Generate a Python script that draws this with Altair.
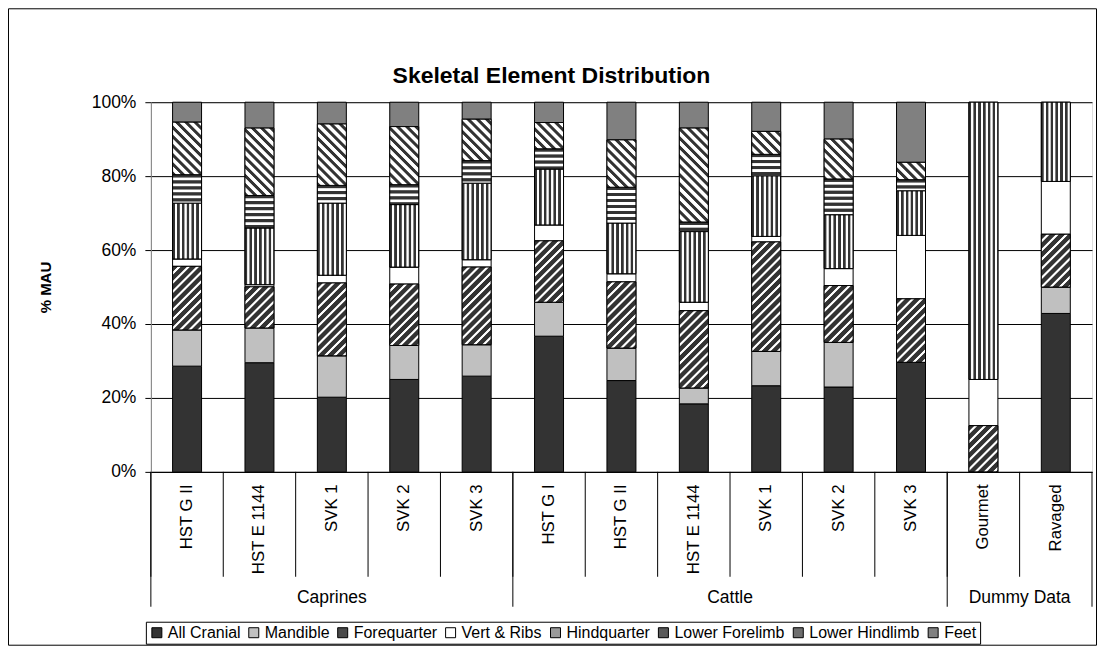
import math
import altair as alt
import pandas as pd

# ---------------- data (% MAU) ----------------
groups = ["Caprines"] * 5 + ["Cattle"] * 6 + ["Dummy Data"] * 2
sites = ["HST G II", "HST E 1144", "SVK 1", "SVK 2", "SVK 3",
         "HST G I", "HST G II", "HST E 1144", "SVK 1", "SVK 2", "SVK 3",
         "Gourmet", "Ravaged"]
elements = ["All Cranial", "Mandible", "Forequarter", "Vert & Ribs",
            "Hindquarter", "Lower Forelimb", "Lower Hindlimb", "Feet"]

all_cranial = [28.6, 29.5, 20.2, 25.0, 25.9, 36.7, 24.7, 18.4, 23.3, 23.0, 29.7, 0.0, 42.86]
mandible = [9.8, 9.4, 11.2, 9.2, 8.5, 9.2, 8.8, 4.3, 9.3, 12.1, 0.0, 0.0, 7.14]
forequarter = [17.2, 11.1, 19.7, 16.6, 21.0, 16.6, 17.9, 20.9, 29.6, 15.4, 17.2, 12.5, 14.29]
vert_ribs = [2.0, 0.6, 2.1, 4.6, 2.0, 4.3, 2.2, 2.3, 1.5, 4.6, 17.2, 12.5, 14.29]
hindquarter = [15.1, 15.3, 19.5, 16.9, 20.7, 15.1, 13.7, 19.1, 16.4, 14.6, 12.1, 75.0, 21.43]
lower_forelimb = [7.7, 8.8, 4.8, 5.4, 6.1, 5.5, 9.7, 2.6, 5.8, 9.7, 3.0, 0.0, 0.0]
lower_hindlimb = [14.2, 18.2, 16.6, 15.7, 11.2, 7.1, 12.8, 25.4, 6.2, 10.8, 4.7, 0.0, 0.0]
feet = [5.4, 7.0, 5.9, 6.6, 4.6, 5.5, 10.2, 7.0, 7.9, 10.0, 16.3, 0.0, 0.0]

series = [all_cranial, mandible, forequarter, vert_ribs, hindquarter,
          lower_forelimb, lower_hindlimb, feet]

keys = [f"{g}|{s}" for g, s in zip(groups, sites)]
rows = []
for i, key in enumerate(keys):
    for j, (el, arr) in enumerate(zip(elements, series)):
        rows.append({"key": key, "group": groups[i], "element": el, "ord": j, "value": arr[i]})
df = pd.DataFrame(rows)

key_df = pd.DataFrame({"key": keys, "group": groups})
group_start = key_df[key_df["group"] != key_df["group"].shift()].copy()
grp_names = ["Caprines", "Cattle", "Dummy Data"]
# anchor of each group label: the key at the middle of the group
lab_mid = pd.DataFrame({"key": [keys[2]], "label": [grp_names[0]]})          # odd count -> band centre
lab_edge = pd.DataFrame({"key": [keys[8], keys[12]], "label": grp_names[1:]})  # even count -> band edge

# ---------------- styles ----------------
W, H = 942, 370
BAR_W = 29
DARK = "#333333"
LIGHT = "#ffffff"
FONT = "Liberation Sans"
colors = ["#333333", "#c0c0c0", "#4a4a4a", "#ffffff", "#9a9a9a", "#5a5a5a", "#6e6e6e", "#808080"]


def stops(n, dark_frac, edge):
    out = []
    for i in range(n):
        b = i / n
        for off, col in [(0.0, DARK), (dark_frac, DARK), (dark_frac + edge, LIGHT), (1 - edge, LIGHT)]:
            out.append("{offset:%.5f,color:'%s'}" % (b + off / n, col))
    out.append("{offset:1,color:'%s'}" % DARK)
    return "[" + ",".join(out) + "]"


HPX = "((datum.y1-datum.y0)*%d)" % H


def diag_expr(rising, period, n, dark_frac, edge):
    k = period * math.sqrt(2) * n
    den = "(%d+%s*%s)" % (BAR_W * BAR_W, HPX, HPX)
    if rising:   # "/" stripes
        geo = "x1:0,y1:0,x2:%.4f*%d/%s,y2:%.4f*%s/%s" % (k, BAR_W, den, k, HPX, den)
    else:        # "\" stripes
        geo = "x1:0,y1:1,x2:%.4f*%d/%s,y2:1-%.4f*%s/%s" % (k, BAR_W, den, k, HPX, den)
    return "{gradient:'linear',%s,stops:%s}" % (geo, stops(n, dark_frac, edge))


def horiz_expr(period, n, dark_frac, edge):
    geo = "x1:0,y1:0,x2:0,y2:%.4f/%s" % (period * n, HPX)
    return "{gradient:'linear',%s,stops:%s}" % (geo, stops(n, dark_frac, edge))


def vert_expr(period, n, dark_frac, edge):
    geo = "x1:0,y1:0,x2:%.4f,y2:0" % (period * n / BAR_W)
    return "{gradient:'linear',%s,stops:%s}" % (geo, stops(n, dark_frac, edge))


patterns = {
    "Forequarter": diag_expr(True, 6.5, 20, 0.55, 0.12),
    "Hindquarter": vert_expr(4.8, 7, 0.42, 0.12),
    "Lower Forelimb": horiz_expr(6.0, 10, 0.42, 0.12),
    "Lower Hindlimb": diag_expr(False, 6.5, 20, 0.34, 0.12),
}

# ---------------- encodings ----------------
xscale = alt.Scale(domain=keys, paddingInner=0, paddingOuter=0)
xaxis = alt.Axis(title=None, labelAngle=270, labelAlign="right", labelBaseline="middle",
                 labelPadding=12, ticks=False, grid=False, domainColor="black",
                 labelExpr="split(datum.value, '|')[1]", labelFontSize=16.8,
                 labelFont=FONT, labelColor="black", labelOverlap=False, labelLimit=300)
xenc = alt.X("key:N", scale=xscale, axis=xaxis)
xedge = alt.X("key:N", scale=xscale, axis=xaxis, bandPosition=0)

yaxis = alt.Axis(values=[0, 0.2, 0.4, 0.6, 0.8, 1.0], format=".0%", grid=True,
                 gridColor="black", gridWidth=1, domainColor="#808080", tickColor="black",
                 tickSize=6, labelFontSize=17.5, labelFont=FONT, labelColor="black",
                 labelPadding=9, title="% MAU", titleFont=FONT, titleFontSize=15,
                 titleFontWeight="bold", titleColor="black", titleAngle=270,
                 titleX=-105, titleY=185, titleAlign="center", titleBaseline="middle")
yenc = alt.Y("y0:Q", scale=alt.Scale(domain=[0, 1], nice=False), axis=yaxis)

base = alt.Chart(df).transform_stack(
    stack="value", groupby=["key"], as_=["y0", "y1"], offset="normalize",
    sort=[alt.SortField("ord", order="ascending")],
)

legend = alt.Legend(title=None, orient="none", legendX=-5, legendY=520, direction="horizontal",
                    columns=8, symbolType="square", symbolSize=100, symbolStrokeColor="black",
                    symbolStrokeWidth=1, labelFontSize=16, labelFont=FONT, labelColor="black",
                    labelOffset=3, columnPadding=5, strokeColor="black", padding=3)

bars = base.transform_filter("datum.value > 0").mark_bar(
    stroke="black", strokeWidth=1, width=BAR_W
).encode(
    x=xenc, y=yenc, y2="y1:Q",
    color=alt.Color("element:N", scale=alt.Scale(domain=elements, range=colors), legend=legend),
)

layers = [bars]
for el, expr in patterns.items():
    layers.append(
        base.transform_filter(f"datum.element == '{el}' && datum.value > 0").mark_bar(
            fill=alt.ExprRef(expr=expr), stroke="black", strokeWidth=1, width=BAR_W
        ).encode(x=xenc, y=yenc, y2="y1:Q")
    )

# category separators below the axis
sep_short = alt.Chart(key_df).mark_rule(color="black", strokeWidth=1).encode(
    x=xedge, y=alt.value(H), y2=alt.value(H + 105))
sep_long = alt.Chart(group_start).mark_rule(color="black", strokeWidth=1).encode(
    x=xedge, y=alt.value(H), y2=alt.value(H + 135))
sep_end = alt.Chart(pd.DataFrame({"k": [0]})).mark_rule(color="black", strokeWidth=1).encode(
    x=alt.value(W), y=alt.value(H), y2=alt.value(H + 135))

grp_mid = alt.Chart(lab_mid).mark_text(font=FONT, fontSize=17.5, color="black", baseline="middle").encode(
    x=xenc, y=alt.value(H + 126), text="label:N")
grp_edge = alt.Chart(lab_edge).mark_text(font=FONT, fontSize=17.5, color="black", baseline="middle").encode(
    x=xedge, y=alt.value(H + 126), text="label:N")

title = alt.Chart(pd.DataFrame({"t": ["Skeletal Element Distribution"]})).mark_text(
    font=FONT, fontSize=23, fontWeight="bold", color="black", baseline="middle", align="center"
).encode(x=alt.value(401), y=alt.value(-26), text="t:N")

frame = alt.Chart(pd.DataFrame({"k": [0]})).mark_rect(
    fill=None, stroke="black", strokeWidth=1
).encode(x=alt.value(-142.5), x2=alt.value(946.5), y=alt.value(-93.5), y2=alt.value(543.5))

chart = alt.layer(
    *layers, sep_short, sep_long, sep_end, grp_mid, grp_edge, title, frame
).properties(
    width=W, height=H,
    autosize=alt.AutoSizeParams(type="none"),
    padding={"left": 143, "top": 94, "right": 7, "bottom": 176},
    background="white",
).configure_view(stroke=None).configure(font=FONT)

chart.save("out.html", embed_options={"renderer": "svg", "actions": False})
